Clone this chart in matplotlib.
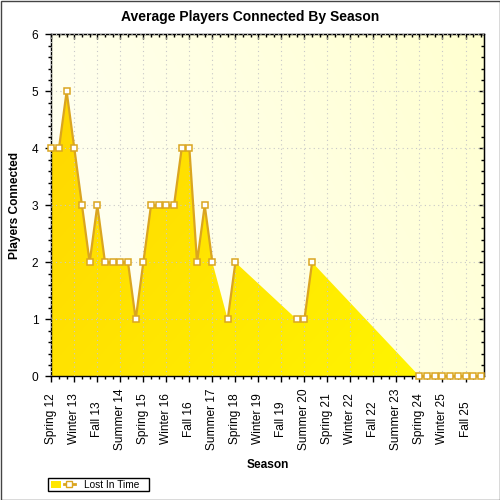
import numpy as np
import matplotlib.pyplot as plt
from matplotlib.patches import Rectangle, Patch
from matplotlib.lines import Line2D
from matplotlib.legend_handler import HandlerTuple

plt.rcParams['font.family'] = ['Liberation Sans', 'DejaVu Sans']

# one value per season, Spring 12 .. Spring 26 (None = no data)
players = [4, 4, 5, 4, 3, 2, 3, 2, 2, 2, 2, 1, 2, 3, 3, 3, 3, 4, 4, 2, 3, 2,
           None, 1, 2, None, None, None, None, None, None, None, 1, 1, 2,
           None, None, None, None, None, None, None, None, None, None, None,
           None, None, 0, 0, 0, 0, 0, 0, 0, 0, 0]
tick_labels = ["Spring 12", "Winter 13", "Fall 13", "Summer 14", "Spring 15",
               "Winter 16", "Fall 16", "Summer 17", "Spring 18", "Winter 19",
               "Fall 19", "Summer 20", "Spring 21", "Winter 22", "Fall 22",
               "Summer 23", "Spring 24", "Winter 25", "Fall 25"]
series_name = "Lost In Time"

gold = '#DAA520'

y = np.array([np.nan if v is None else v for v in players], dtype=float)
x = np.arange(len(y))

fig = plt.figure(figsize=(5, 5), dpi=100)
ax = fig.add_axes([0.1026, 0.2474, 0.866, 0.684])
x0, x1, y0, y1 = 0, 56.45, 0, 6
ax.set_xlim(x0, x1)
ax.set_ylim(y0, y1)

# plot background gradient
gx, gy = np.meshgrid(np.linspace(0, 1, 200), np.linspace(0, 1, 200))
bg = np.zeros((200, 200, 3))
bg[..., 0] = 1.0
bg[..., 1] = 1.0
bg[..., 2] = (248 - 40 * (gx * 0.7 + (1 - gy) * 0.3)) / 255
ax.imshow(bg, extent=[x0, x1, y0, y1], aspect='auto', zorder=0, origin='upper')

# area (interpolated over the missing seasons)
ok = ~np.isnan(y)
px = np.concatenate([[x[ok][0]], x[ok], [x[ok][-1]]])
py = np.concatenate([[0], y[ok], [0]])
poly = ax.fill(px, py, facecolor='none', edgecolor='none', zorder=2)[0]
fg = np.zeros((200, 200, 3))
s = gx * 0.6 + gy * 0.4
fg[..., 0] = 1.0
fg[..., 1] = (212 + 36 * s) / 255
fg[..., 2] = 0
im = ax.imshow(fg, extent=[x0, x1, y0, y1], aspect='auto', zorder=2, origin='upper')
im.set_clip_path(poly)

ax.grid(True, which='major', color='#C8C8C8', linestyle=(0, (1, 3)), linewidth=0.8)
ax.set_axisbelow(False)
for gl in ax.get_xgridlines() + ax.get_ygridlines():
    gl.set_zorder(1)

ax.plot(x, y, color=gold, lw=1.6, marker='s', ms=5, mfc='white', mec=gold, mew=1.1,
        zorder=3, clip_on=False)

ax.set_xticks(np.arange(0, 55, 3))
ax.set_xticks(x, minor=True)
ax.set_xticklabels(tick_labels, rotation=90, fontsize=8.6, va='center')
ax.set_yticks(range(0, 7))
ax.set_yticks(np.arange(0, 6.01, 0.2), minor=True)
ax.tick_params(axis='x', which='major', direction='out', length=4.3, width=1, pad=26.4)
ax.tick_params(axis='x', which='minor', direction='out', length=2.5, width=1)
ax.tick_params(axis='y', which='major', direction='out', length=4.3, width=1, pad=5,
               labelsize=8.6)
ax.tick_params(axis='y', which='minor', direction='out', length=2.5, width=1)

top = ax.secondary_xaxis('top')
top.set_xticks(np.arange(0, 55, 3))
top.set_xticks(x, minor=True)
top.set_xticklabels([])
top.tick_params(which='major', direction='in', length=3.5, width=1)
top.tick_params(which='minor', direction='in', length=2.5, width=1)
right = ax.secondary_yaxis('right')
right.set_yticks(range(0, 7))
right.set_yticks(np.arange(0, 6.01, 0.2), minor=True)
right.set_yticklabels([])
right.tick_params(which='major', direction='in', length=3.5, width=1)
right.tick_params(which='minor', direction='in', length=2.2, width=1)

for sp in ax.spines.values():
    sp.set_linewidth(1)

ax.set_xlabel('Season', fontweight='bold', fontsize=8.6, va='center')
ax.xaxis.set_label_coords(0.5, -0.259)
ax.set_ylabel('Players Connected', fontweight='bold', fontsize=8.6, va='center')
ax.yaxis.set_label_coords(-0.084, 0.5)

fig.text(0.5, 1 - 17.5 / 500, 'Average Players Connected By Season',
         ha='center', va='center', fontweight='bold', fontsize=10)

handle = (Patch(facecolor='#FFE600', edgecolor='none'),
          Line2D([], [], color=gold, lw=2, marker='s', ms=5, mfc='white', mec=gold))
leg = fig.legend([handle], [series_name], handler_map={tuple: HandlerTuple(ndivide=None)},
                 loc='lower left', bbox_to_anchor=(48 / 500, 7.5 / 500),
                 borderaxespad=0, fontsize=7.3, frameon=False,
                 handlelength=2.4, handletextpad=0.9, borderpad=0.25)
fig.patches.append(Rectangle((48 / 500, 9 / 500), 101 / 500, 13 / 500,
                             transform=fig.transFigure, fill=False,
                             edgecolor='black', lw=1))

fig.patches.append(Rectangle((0.001, 0.001), 0.998, 0.998, transform=fig.transFigure,
                             fill=False, edgecolor='#444444', lw=1))

fig.savefig('out.png', dpi=100)
